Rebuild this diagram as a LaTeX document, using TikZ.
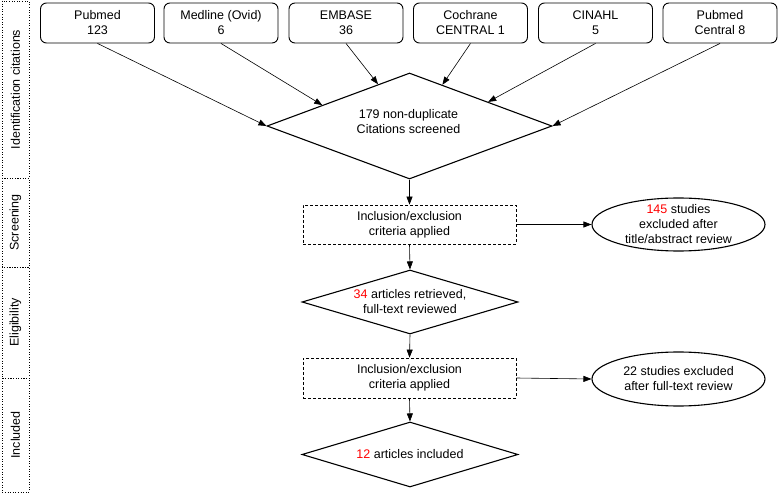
\documentclass[tikz,border=0pt]{standalone}
\usepackage{fontspec}
\setmainfont{Liberation Sans}
\usetikzlibrary{shapes.geometric,arrows.meta,calc}
\begin{document}
\begin{tikzpicture}[x=1pt,y=-1pt,
  every node/.style={font=\fontsize{12.5}{15}\selectfont, inner sep=0pt},
  src/.style={draw, rounded corners=6pt, minimum width=114pt, minimum height=40pt, align=center, line width=0.9pt},
  dbox/.style={draw, dash pattern=on 3pt off 2pt, minimum width=213pt, minimum height=39pt, align=center, line width=0.7pt},
  dia/.style={draw, diamond, line width=1.1pt, align=center},
  ell/.style={draw, ellipse, minimum width=173pt, minimum height=53pt, line width=1.1pt},
  txt/.style={align=center},
  side/.style={draw, dotted, line width=0.6pt, rotate=90, minimum height=27pt},
  arr/.style={-{Triangle[length=8pt,width=6pt]}, line width=0.6pt},
]
\useasboundingbox (0,0) rectangle (780,494);

% side bar
\node[side, minimum width=177pt] (s1) at (15.5,89.5) {Identification citations};
\node[side, minimum width=89pt] (s2) at (15.5,222.5) {Screening};
\node[side, minimum width=111pt] (s3) at (15.5,322.5) {Eligibility};
\node[side, minimum width=114pt] (s4) at (15.5,435) {Included};

% sources
\node[src] (p1) at (97.5,23) {Pubmed\\123};
\node[src] (p2) at (221,23) {Medline (Ovid)\\6};
\node[src] (p3) at (346,23) {EMBASE\\36};
\node[src] (p4) at (470.5,23) {Cochrane\\CENTRAL 1};
\node[src] (p5) at (595.5,23) {CINAHL\\5};
\node[src] (p6) at (720,23) {Pubmed\\Central 8};

% main flow
\node[dia, minimum width=285pt, minimum height=106pt, aspect=2.69] (d1) at (409.5,126) {};
\node[txt] (t0) at (408.5,122) {179 non-duplicate\\Citations screened};
\node[dbox] (b1) at (409.5,224.5) {Inclusion/exclusion\\criteria applied};
\node[ell] (e1) at (678.5,224.5) {};
\node[txt] (t1) at (e1) {\textcolor{red}{145} studies\\excluded after\\title/abstract review};
\node[dia, minimum width=216pt, minimum height=64pt, aspect=3.375] (d2) at (410,302) {\textcolor{red}{34} articles retrieved,\\full-text reviewed};
\node[dbox, minimum height=40pt] (b2) at (409.5,378) {Inclusion/exclusion\\criteria applied};
\node[ell, minimum height=54pt] (e2) at (678.5,379) {};
\node[txt] (t2) at (e2) {22 studies excluded\\after full-text review};
\node[dia, minimum width=216pt, minimum height=65pt, aspect=3.32] (d3) at (410,454.5) {\textcolor{red}{12} articles included};

% connectors
\draw[arr] (p1.south) -- (d1.west);
\draw[arr] (p2.south) -- ($(d1.west)!0.39!(d1.north)$);
\draw[arr] (p3.south) -- ($(d1.west)!0.78!(d1.north)$);
\draw[arr] (p4.south) -- ($(d1.north)!0.23!(d1.east)$);
\draw[arr] (p5.south) -- ($(d1.north)!0.55!(d1.east)$);
\draw[arr] (p6.south) -- (d1.east);
\draw[arr] (d1.south) -- (b1.north);
\draw[arr] (b1.south) -- (d2.north);
\draw[arr] (b1.east) -- (e1.west);
\draw[arr] (d2.south) -- (b2.north);
\draw[arr] (b2.south) -- (d3.north);
\draw[arr] (b2.east) -- (e2.west);
\end{tikzpicture}
\end{document}
